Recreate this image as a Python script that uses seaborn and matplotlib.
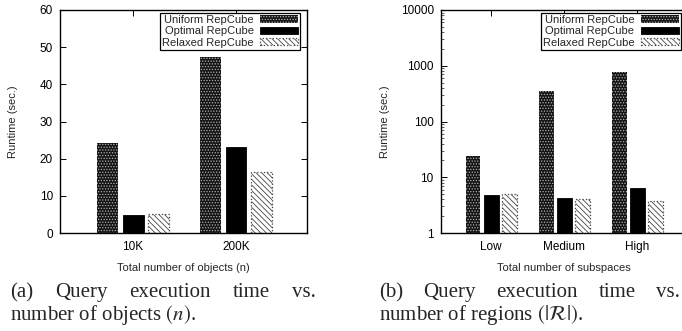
# -*- coding: utf-8 -*-
import numpy as np
import pandas as pd
import matplotlib
matplotlib.use("Agg")
import matplotlib.pyplot as plt
import seaborn as sns
from matplotlib.patches import Patch
from matplotlib.ticker import FixedLocator, LogLocator, NullFormatter, FuncFormatter

### data
methods = ["Uniform RepCube", "Optimal RepCube", "Relaxed RepCube"]

# (a) number of objects
objCats = ["10K", "200K"]
objUniform = [24.2, 47.3]
objOptimal = [4.9, 23.1]
objRelaxed = [5.1, 16.3]

# (b) number of subspaces (log axis)
subCats = ["Low", "Medium", "High"]
subUniform = [24.4, 350, 770]
subOptimal = [4.9, 4.3, 6.3]
subRelaxed = [5.0, 4.1, 3.75]
#############################

def longTable(cats, uni, opt, rel):
    rows = []
    for vals, m in zip([uni, opt, rel], methods):
        for c, v in zip(cats, vals):
            rows.append({"cat": c, "method": m, "val": v})
    return pd.DataFrame(rows)

objDf = longTable(objCats, objUniform, objOptimal, objRelaxed)
subDf = longTable(subCats, subUniform, subOptimal, subRelaxed)

sns.set_style("ticks")
plt.rcParams["font.family"] = ["Liberation Sans", "DejaVu Sans"]
plt.rcParams["hatch.linewidth"] = 0.6
plt.rcParams["mathtext.fontset"] = "stix"

# gnuplot-like fill styles
styles = {
    "Uniform RepCube": dict(facecolor="#141414", edgecolor="#b0b0b0", hatch="......", linewidth=0),
    "Optimal RepCube": dict(facecolor="black", edgecolor="black", hatch=None, linewidth=0.6),
    "Relaxed RepCube": dict(facecolor="white", edgecolor="#444444", hatch="\\\\\\\\\\\\", linewidth=0.9, linestyle=":"),
}

W, H = 682, 331
fig = plt.figure(figsize=(W / 100, H / 100), dpi=100)
axA = fig.add_axes([60 / W, (H - 233) / H, 247 / W, 223 / H])
axB = fig.add_axes([440.7 / W, (H - 233) / H, 247 / W, 223 / H])

for ax, df, cats in [(axA, objDf, objCats), (axB, subDf, subCats)]:
    sns.barplot(data=df, x="cat", y="val", hue="method", hue_order=methods, order=cats,
                width=0.744, gap=0.18, legend=False, ax=ax)
    for cont, m in zip(ax.containers, methods):
        for p in cont:
            p.set(**styles[m])
    handles = [Patch(label=m, **styles[m]) for m in methods]
    leg = ax.legend(handles=handles, loc="upper right", bbox_to_anchor=(0.973, 0.988),
                    borderaxespad=0, markerfirst=False, fontsize=8, fancybox=False,
                    frameon=True, edgecolor="black", framealpha=1, handlelength=3.4,
                    handleheight=0.6, labelspacing=0.12, borderpad=0.2, handletextpad=0.6)
    leg.get_frame().set_linewidth(0.9)
    for s in ax.spines.values():
        s.set_visible(True)
        s.set_color("black")
        s.set_linewidth(1.0)
    ax.set_xlabel("")
    ax.set_ylabel("Runtime (sec.)", fontsize=8)
    ax.tick_params(axis="both", which="major", direction="in", length=4, width=0.7,
                   top=True, right=True, labelsize=8.5, colors="black")
    ax.tick_params(axis="x", pad=6)
    ax.tick_params(axis="y", pad=5)

# (a)
axA.set_xlim(-0.71, 1.69)
axA.set_ylim(0, 60)
axA.yaxis.set_major_locator(FixedLocator(np.arange(0, 61, 10)))
axA.set_xlabel("Total number of objects (n)", fontsize=8)
axA.xaxis.set_label_coords(0.5, -0.135)
axA.yaxis.set_label_coords(-0.17, 0.5)

# (b)
axB.set_yscale("log")
axB.set_ylim(1, 10000)
axB.set_xlim(-0.69, 2.69)
axB.yaxis.set_major_locator(FixedLocator([1, 10, 100, 1000, 10000]))
axB.yaxis.set_major_formatter(FuncFormatter(lambda v, p: "%d" % v))
axB.yaxis.set_minor_locator(LogLocator(base=10, subs=np.arange(2, 10)))
axB.yaxis.set_minor_formatter(NullFormatter())
axB.tick_params(axis="y", which="minor", direction="in", length=2, width=0.5, right=True)
axB.set_xlabel("Total number of subspaces", fontsize=8)
axB.xaxis.set_label_coords(0.5, -0.135)
axB.yaxis.set_label_coords(-0.205, 0.5)

# captions, justified first line like the paper
capFont = dict(family=["Liberation Serif", "DejaVu Serif"], fontsize=15, va="baseline")
renderer = fig.canvas.get_renderer()

def justified(words, x0, x1, yPix):
    texts = [fig.text(0, (H - yPix) / H, w, **capFont) for w in words]
    widths = [t.get_window_extent(renderer).width for t in texts]
    gap = (x1 - x0 - sum(widths)) / (len(words) - 1)
    x = x0
    for t, w in zip(texts, widths):
        t.set_x(x / W)
        x += w + gap

justified(["(a)", "Query", "execution", "time", "vs."], 10, 316, 297)
fig.text(10 / W, (H - 320) / H, r"number of objects $(n)$.", **capFont)
justified(["(b)", "Query", "execution", "time", "vs."], 379, 680, 297)
fig.text(379 / W, (H - 320) / H, r"number of regions $(|\mathcal{R}|)$.", **capFont)

fig.savefig("out.png", dpi=100)
